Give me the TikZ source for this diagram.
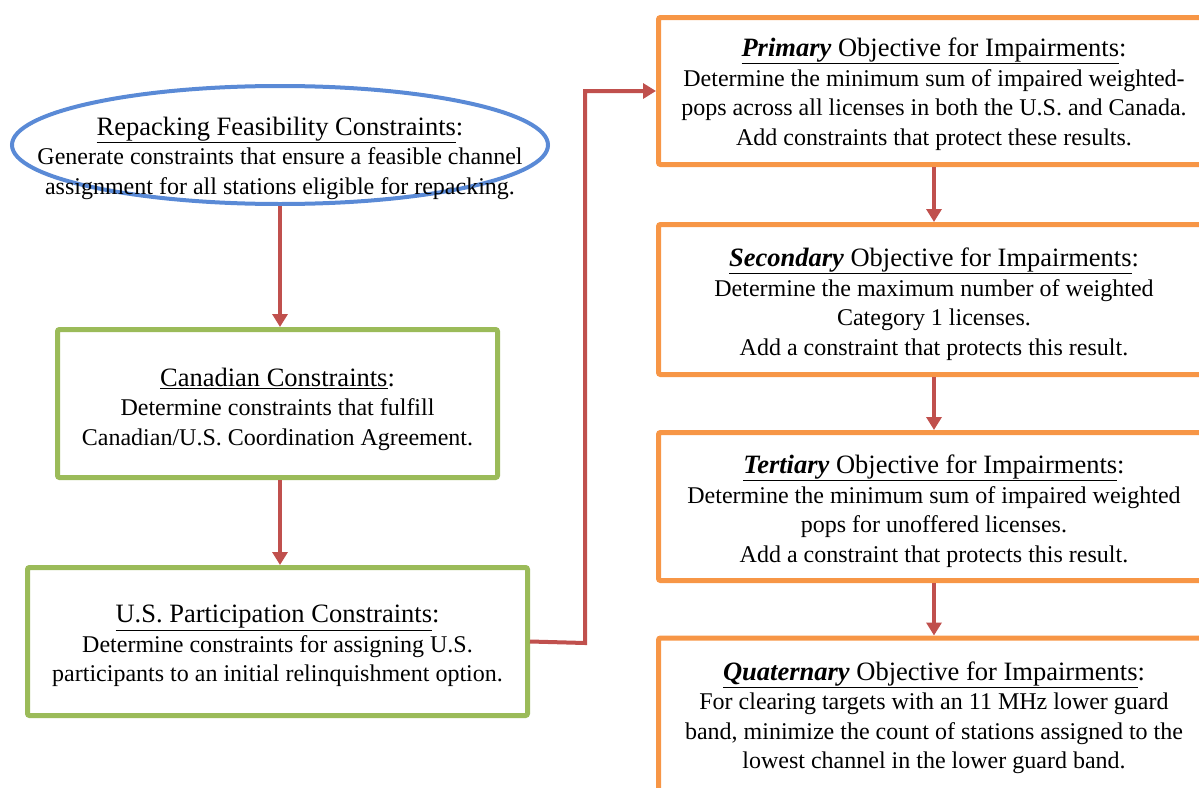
\documentclass[tikz,border=0pt]{standalone}
\usepackage{fontspec}
\setmainfont{Liberation Serif}
\usetikzlibrary{arrows.meta,shapes.geometric}
\definecolor{eblue}{HTML}{5A8AD6}
\definecolor{bgreen}{HTML}{9BBB59}
\definecolor{borange}{HTML}{F79646}
\definecolor{ared}{HTML}{C0504D}
\newcommand{\ttl}[1]{{\fontsize{26.5}{30}\selectfont #1}}
\begin{document}
\begin{tikzpicture}[x=1pt,y=-1pt,
  txt/.style={font=\fontsize{24}{29.5}\selectfont, align=center, inner sep=0pt},
  gbox/.style={draw=bgreen, line width=5pt, rounded corners=2pt, rectangle},
  obox/.style={draw=borange, line width=5pt, rounded corners=2pt, rectangle, minimum width=551pt},
  conn/.style={draw=ared, line width=4pt, -{Triangle[width=15pt,length=13pt]}}]
\useasboundingbox (0,0) rectangle (1199,787);

% left column
\node[ellipse, draw=eblue, line width=4pt, minimum width=536pt, minimum height=118pt] (rep) at (280,145) {};
\node[txt] (repT) at (280,158) {\ttl{\underline{Repacking Feasibility Constraints}:}\\Generate constraints that ensure a feasible channel\\assignment for all stations eligible for repacking.};

\node[gbox, minimum width=440pt, minimum height=148pt] (can) at (277.5,403.5) {};
\node[txt] (canT) at (277.5,409) {\ttl{\underline{Canadian Constraints}:}\\Determine constraints that fulfill\\Canadian/U.S. Coordination Agreement.};

\node[gbox, minimum width=500pt, minimum height=148pt] (us) at (277.5,641.5) {};
\node[txt] (usT) at (277.5,646) {\ttl{\underline{U.S. Participation Constraints}:}\\Determine constraints for assigning U.S.\\participants to an initial relinquishment option.};

% right column
\node[obox, minimum height=147pt] (p1) at (934,91) {};
\node[txt] (p1T) at (934,94) {\ttl{\underline{\textbf{\textit{Primary}} Objective for Impairments}:}\\Determine the minimum sum of impaired weighted-\\pops across all licenses in both the U.S. and Canada.\\Add constraints that protect these results.};

\node[obox, minimum height=150pt] (p2) at (934,299.5) {};
\node[txt] (p2T) at (934,304) {\ttl{\underline{\textbf{\textit{Secondary}} Objective for Impairments}:}\\Determine the maximum number of weighted\\Category 1 licenses.\\Add a constraint that protects this result.};

\node[obox, minimum height=148pt] (p3) at (934,506.5) {};
\node[txt] (p3T) at (934,511) {\ttl{\underline{\textbf{\textit{Tertiary}} Objective for Impairments}:}\\Determine the minimum sum of impaired weighted\\pops for unoffered licenses.\\Add a constraint that protects this result.};

\node[obox, minimum height=170pt] (p4) at (934,723) {};
\node[txt] (p4T) at (934,718) {\ttl{\underline{\textbf{\textit{Quaternary}} Objective for Impairments}:}\\For clearing targets with an 11 MHz lower guard\\band, minimize the count of stations assigned to the\\lowest channel in the lower guard band.};

% connectors
\draw[conn] (rep.south) -- (rep.south |- can.north);
\draw[conn] (can.south -| rep.south) -- (rep.south |- us.north);
\coordinate (bend) at (585,643);
\draw[conn] (us.east) -- (bend) |- (p1.west);
\draw[conn] (p1.south) -- (p2.north);
\draw[conn] (p2.south) -- (p3.north);
\draw[conn] (p3.south) -- (p4.north);
\end{tikzpicture}
\end{document}
